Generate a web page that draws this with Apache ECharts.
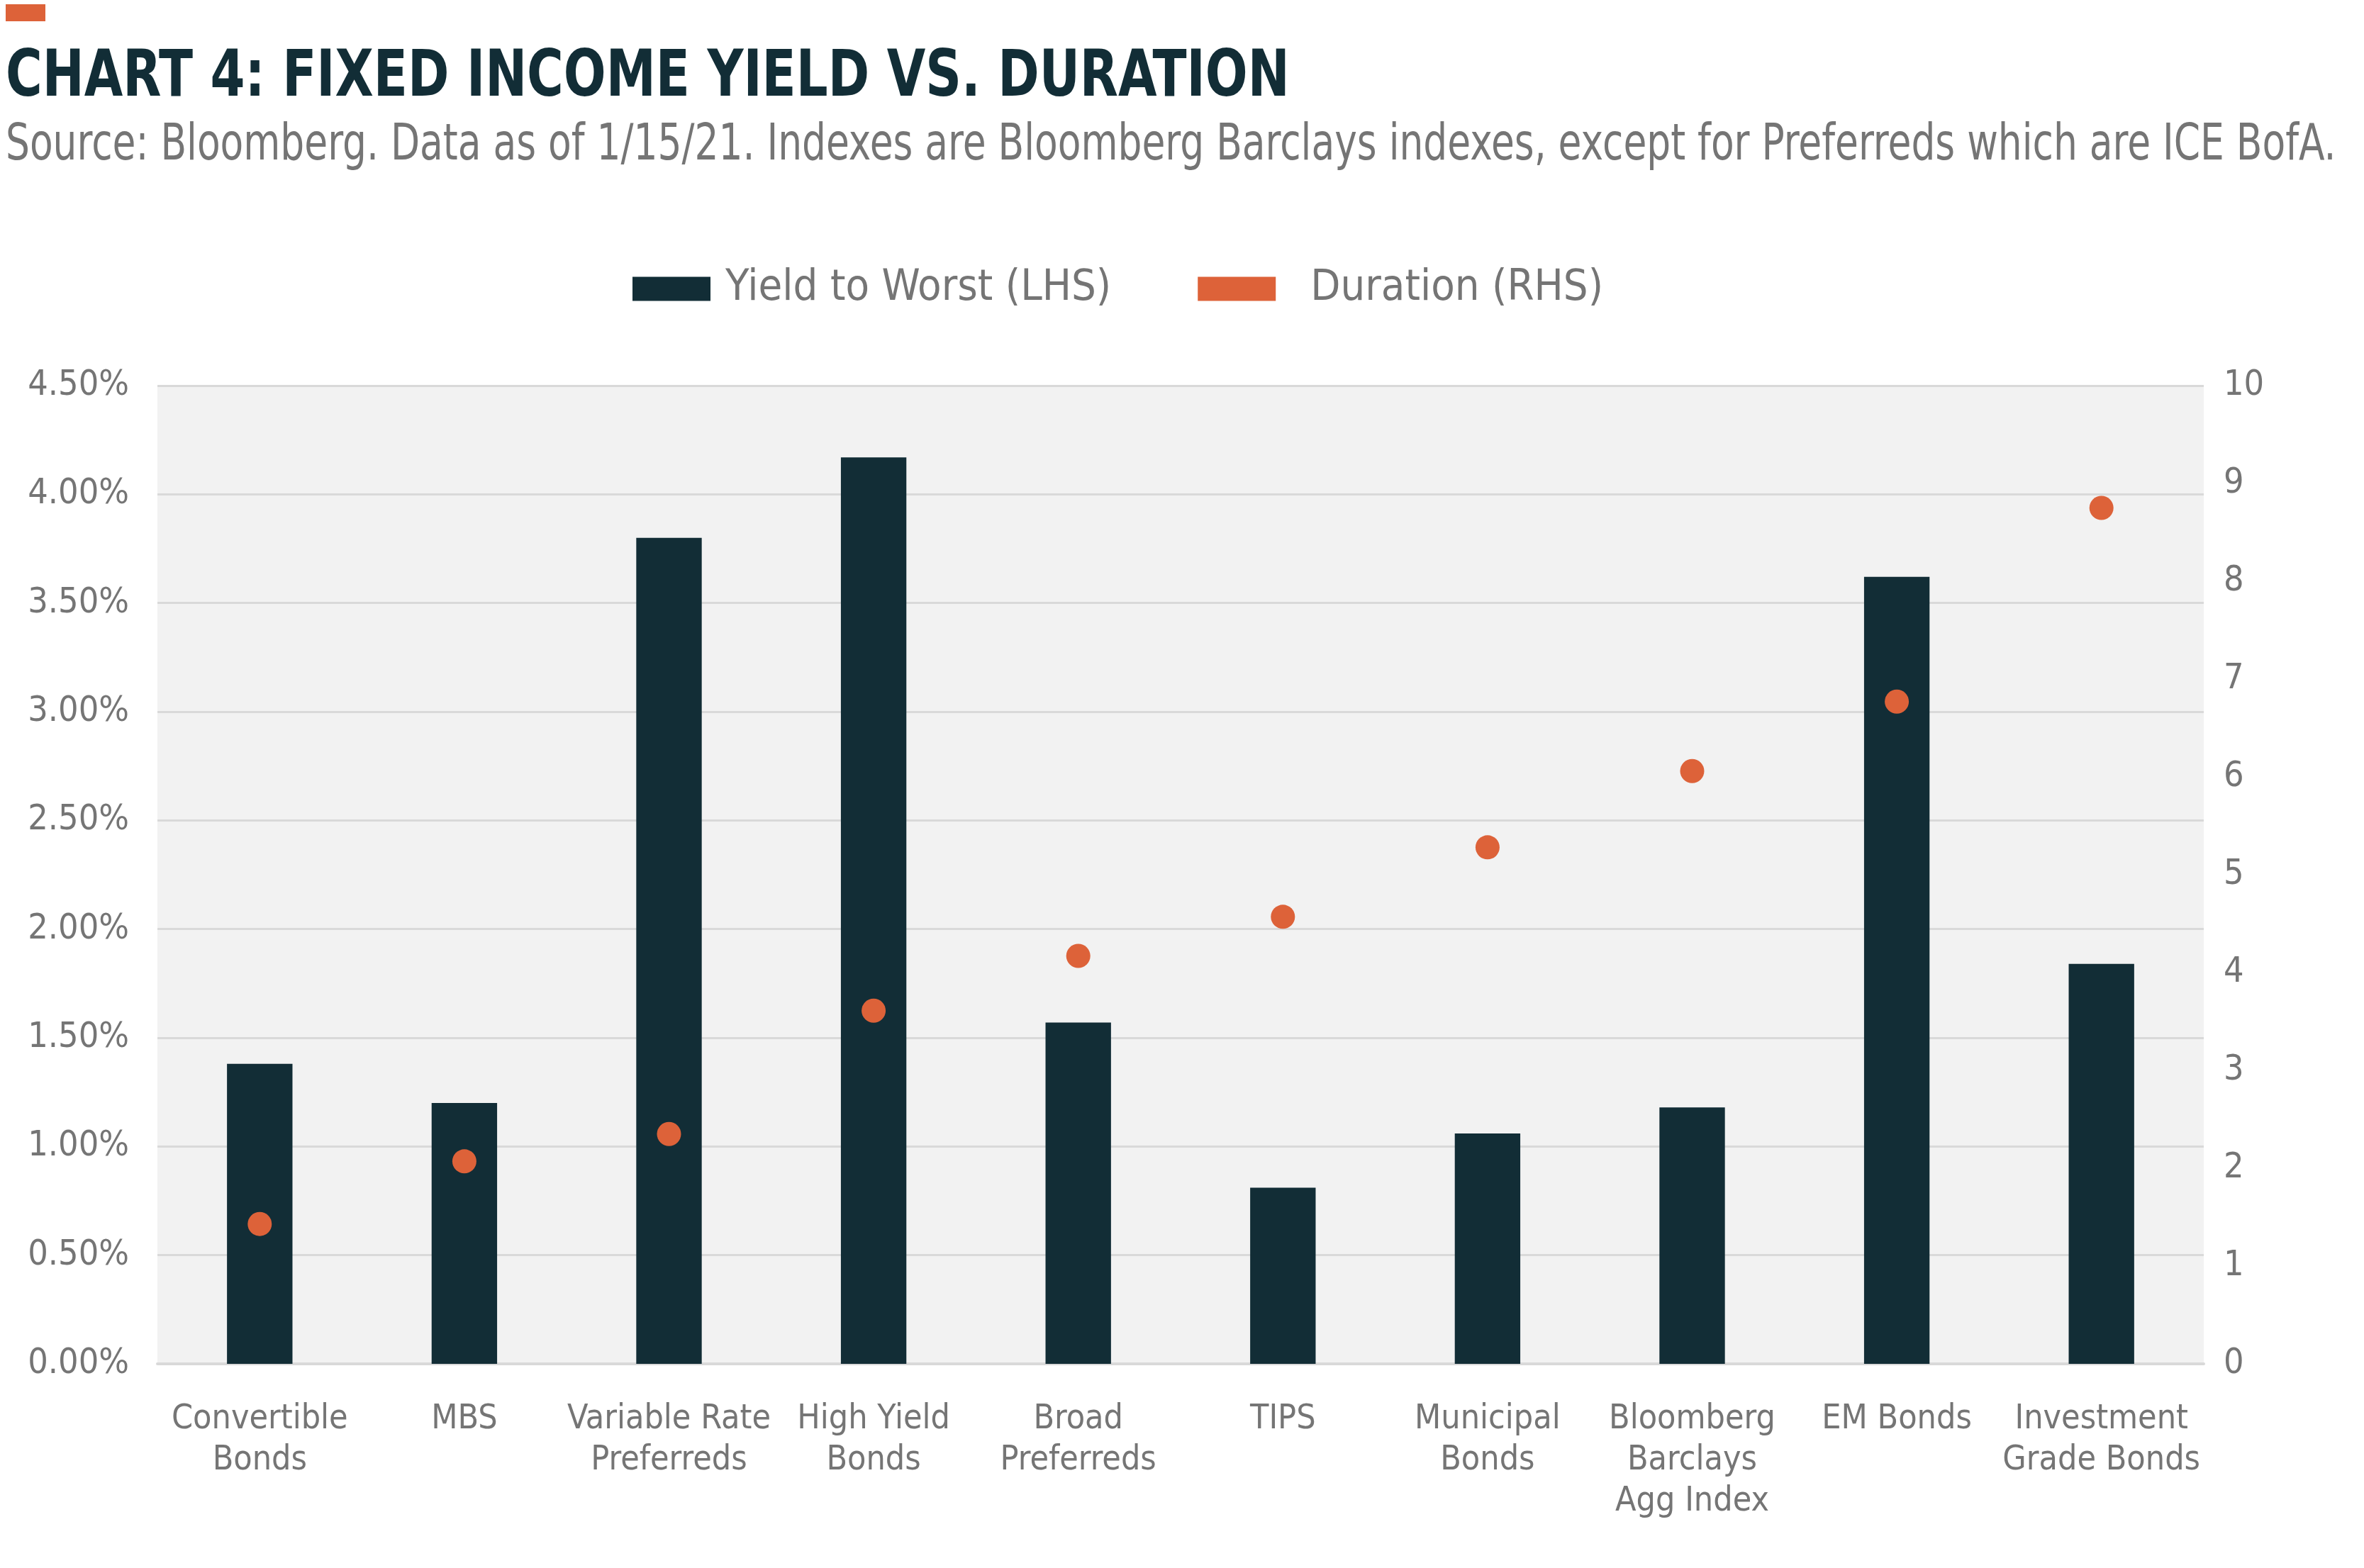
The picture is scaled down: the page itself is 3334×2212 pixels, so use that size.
<!DOCTYPE html>
<html>
<head>
<meta charset="utf-8">
<script src="https://cdn.jsdelivr.net/npm/echarts@6/dist/echarts.min.js"></script>
<style>
html,body{margin:0;padding:0;background:#fff;}
#chart{width:3334px;height:2212px;}
</style>
</head>
<body>
<div id="chart"></div>
<script>
const categories = ['Convertible\nBonds','MBS','Variable Rate\nPreferreds','High Yield\nBonds','Broad\nPreferreds','TIPS','Municipal\nBonds','Bloomberg\nBarclays\nAgg Index','EM Bonds','Investment\nGrade Bonds'];
const yieldToWorst = [1.38, 1.20, 3.80, 4.17, 1.57, 0.81, 1.06, 1.18, 3.62, 1.84];
const duration = [1.43, 2.07, 2.35, 3.61, 4.17, 4.57, 5.28, 6.06, 6.77, 8.75];
const leftTicks = {min: 0, max: 4.5, interval: 0.5};
const rightTicks = {min: 0, max: 10, interval: 1};
const titleText = 'CHART 4: FIXED INCOME YIELD VS. DURATION';
const subtitleText = 'Source: Bloomberg. Data as of 1/15/21. Indexes are Bloomberg Barclays indexes, except for Preferreds which are ICE BofA.';

const NARROW = '"DejaVu Sans Condensed","Roboto",sans-serif';
const chart = echarts.init(document.getElementById('chart'));
chart.setOption({
  backgroundColor: '#ffffff',
  animation: false,
  graphic: [{
    type: 'rect', x: 8, y: 6, shape: {width: 56, height: 24}, style: {fill: '#dd6239'}
  }, {
    type: 'text', x: 8, y: 67, scaleX: 0.87,
    style: {text: titleText, fontFamily: NARROW, fontWeight: 'bold', fontSize: 90, fill: '#122d36', verticalAlign: 'top', align: 'left'}
  }, {
    type: 'text', x: 8, y: 170, scaleX: 0.825,
    style: {text: subtitleText, fontFamily: NARROW, fontWeight: 'normal', fontSize: 72, fill: '#757575', verticalAlign: 'top', align: 'left'}
  }],
  legend: {
    left: 887, top: 372,
    icon: 'rect', itemWidth: 110, itemHeight: 34, itemGap: 122,
    textStyle: {fontFamily: NARROW, fontSize: 61, color: '#757575', padding: [0,0,0,16]},
    data: [
      {name: 'Yield to Worst (LHS)'},
      {name: 'Duration (RHS)', textStyle: {padding: [0,0,0,44]}}
    ]
  },
  grid: {left: 222, right: 226, top: 544, bottom: 288, show: true, backgroundColor: '#f2f2f2', borderWidth: 0},
  xAxis: {
    type: 'category', data: categories,
    axisLine: {show: true, lineStyle: {color: '#d9d9d9', width: 4}},
    axisTick: {show: false},
    axisLabel: {interval: 0, fontFamily: NARROW, fontSize: 48, lineHeight: 58, color: '#757575', margin: 50}
  },
  yAxis: [{
    type: 'value', min: leftTicks.min, max: leftTicks.max, interval: leftTicks.interval,
    axisLine: {show: false}, axisTick: {show: false},
    splitLine: {lineStyle: {color: '#d9d9d9', width: 3}},
    axisLabel: {formatter: v => v.toFixed(2) + '%', fontFamily: NARROW, fontSize: 50, color: '#757575', margin: 40}
  }, {
    type: 'value', min: rightTicks.min, max: rightTicks.max, interval: rightTicks.interval,
    axisLine: {show: false}, axisTick: {show: false}, splitLine: {show: false},
    axisLabel: {fontFamily: NARROW, fontSize: 50, color: '#757575', margin: 28}
  }],
  series: [{
    name: 'Yield to Worst (LHS)', type: 'bar', yAxisIndex: 0, data: yieldToWorst,
    barWidth: '32%', itemStyle: {color: '#122d36'}
  }, {
    name: 'Duration (RHS)', type: 'scatter', yAxisIndex: 1, data: duration,
    symbol: 'circle', symbolSize: 34, itemStyle: {color: '#dd6239', opacity: 1}
  }]
});
</script>
</body>
</html>
